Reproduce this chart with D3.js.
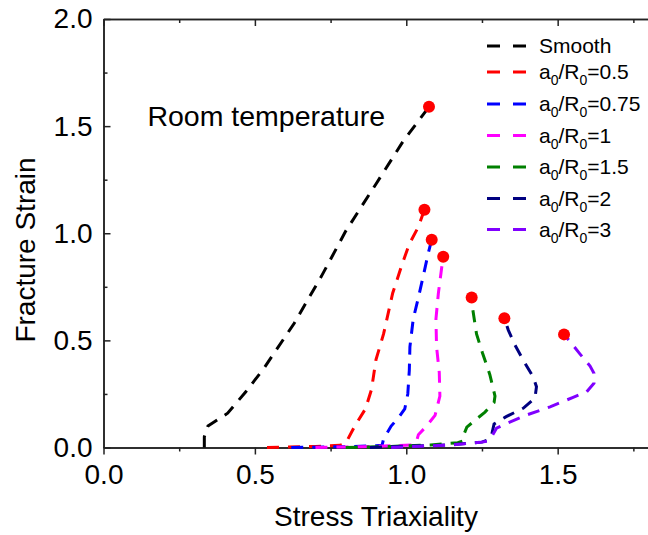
<!DOCTYPE html>
<html>
<head>
<meta charset="utf-8">
<script src="https://cdn.jsdelivr.net/npm/d3@7"></script>
<style>
  body { margin: 0; background: #fff; }
  svg { display: block; }
  text { font-family: "Liberation Sans", Arial, sans-serif; fill: #000; }
</style>
</head>
<body>
<script>
const W = 648, H = 535;
const margin = { top: 19, right: -0.5, bottom: 87.5, left: 103.5 };

// series (stress triaxiality, fracture strain)
const smoothX = [0.333, 0.333, 0.345, 0.41, 0.47, 0.53, 0.63, 0.72, 0.80, 0.90, 0.99, 1.075];
const smoothY = [0, 0.05, 0.10, 0.16, 0.26, 0.37, 0.58, 0.80, 1.01, 1.23, 1.43, 1.59];

const r05X = [0.54, 0.70, 0.78, 0.80, 0.83, 0.865, 0.885, 0.90, 0.925, 0.955, 0.985, 1.01, 1.04, 1.06];
const r05Y = [0, 0.005, 0.01, 0.02, 0.10, 0.18, 0.27, 0.41, 0.53, 0.72, 0.85, 0.95, 1.03, 1.11];

const r075X = [0.62, 0.80, 0.90, 0.92, 0.925, 0.95, 0.975, 0.995, 1.005, 1.01, 1.012, 1.023, 1.04, 1.056, 1.073, 1.084];
const r075Y = [0, 0.004, 0.008, 0.01, 0.04, 0.10, 0.14, 0.18, 0.25, 0.36, 0.47, 0.60, 0.70, 0.80, 0.91, 0.97];

const r1X = [0.70, 0.85, 0.95, 1.02, 1.034, 1.04, 1.067, 1.095, 1.111, 1.109, 1.10, 1.098, 1.106, 1.117, 1.122];
const r1Y = [0, 0.004, 0.008, 0.012, 0.03, 0.06, 0.10, 0.15, 0.24, 0.35, 0.47, 0.60, 0.72, 0.84, 0.89];

const r15X = [0.80, 0.95, 1.08, 1.17, 1.186, 1.19, 1.20, 1.238, 1.26, 1.29, 1.293, 1.276, 1.252, 1.232, 1.219, 1.216];
const r15Y = [0, 0.005, 0.012, 0.022, 0.03, 0.06, 0.095, 0.14, 0.165, 0.21, 0.24, 0.34, 0.44, 0.53, 0.65, 0.70];

const r2X = [0.88, 1.0, 1.14, 1.25, 1.27, 1.282, 1.29, 1.33, 1.386, 1.425, 1.43, 1.419, 1.386, 1.359, 1.337, 1.324];
const r2Y = [0, 0.006, 0.012, 0.025, 0.035, 0.06, 0.11, 0.144, 0.183, 0.23, 0.284, 0.33, 0.408, 0.478, 0.548, 0.603];

const r3X = [0.95, 1.05, 1.15, 1.243, 1.27, 1.282, 1.298, 1.332, 1.398, 1.475, 1.551, 1.596, 1.62, 1.62, 1.607, 1.574, 1.541, 1.521];
const r3Y = [0, 0.006, 0.012, 0.024, 0.03, 0.05, 0.09, 0.113, 0.152, 0.19, 0.234, 0.26, 0.30, 0.346, 0.38, 0.436, 0.494, 0.528];

const seriesNames = ["Smooth", "0.5", "0.75", "1", "1.5", "2", "3"];
const seriesColors = ["#000000", "#ff0000", "#0000ff", "#ff00ff", "#008000", "#000080", "#8000ff"];
const seriesXs = [smoothX, r05X, r075X, r1X, r15X, r2X, r3X];
const seriesYs = [smoothY, r05Y, r075Y, r1Y, r15Y, r2Y, r3Y];

const xMajor = [0, 0.5, 1.0, 1.5];
const xMinor = [0.25, 0.75, 1.25, 1.75];
const yMajor = [0, 0.5, 1.0, 1.5, 2.0];
const yMinor = [0.25, 0.75, 1.25, 1.75];

const svg = d3.select("body").append("svg")
    .attr("width", W)
    .attr("height", H);

const x = d3.scaleLinear().domain([0, 1.8]).range([margin.left, W - margin.right]);
const y = d3.scaleLinear().domain([0, 2.0]).range([H - margin.bottom, margin.top]);

const fmt = d3.format(".1f");

// bottom axis (ticks out)
svg.append("g")
    .attr("transform", `translate(0,${y(0)})`)
    .call(d3.axisBottom(x).tickValues(xMajor).tickFormat(fmt).tickSizeInner(7).tickSizeOuter(0).tickPadding(10));
svg.append("g")
    .attr("transform", `translate(0,${y(0)})`)
    .call(d3.axisBottom(x).tickValues(xMinor).tickFormat("").tickSizeInner(4).tickSizeOuter(0));

// top axis (ticks in)
svg.append("g")
    .attr("transform", `translate(0,${y(2)})`)
    .call(d3.axisTop(x).tickValues(xMajor).tickFormat("").tickSizeInner(-7).tickSizeOuter(0));
svg.append("g")
    .attr("transform", `translate(0,${y(2)})`)
    .call(d3.axisTop(x).tickValues(xMinor).tickFormat("").tickSizeInner(-4).tickSizeOuter(0));

// left axis (ticks in)
svg.append("g")
    .attr("transform", `translate(${x(0)},0)`)
    .call(d3.axisLeft(y).tickValues(yMajor).tickFormat(fmt).tickSizeInner(-7).tickSizeOuter(0).tickPadding(11));
svg.append("g")
    .attr("transform", `translate(${x(0)},0)`)
    .call(d3.axisLeft(y).tickValues(yMinor).tickFormat("").tickSizeInner(-4).tickSizeOuter(0));

svg.selectAll(".domain").attr("stroke", "#222").attr("stroke-width", 1.5);
svg.selectAll(".tick line").attr("stroke", "#222").attr("stroke-width", 1.5);
svg.selectAll(".tick text").attr("font-size", 28).attr("fill", "#000")
    .style("font-family", "'Liberation Sans', Arial, sans-serif");

// axis titles
svg.append("text")
    .attr("x", (x(0) + x(1.8)) / 2)
    .attr("y", 526)
    .attr("text-anchor", "middle")
    .attr("font-size", 28)
    .text("Stress Triaxiality");

svg.append("text")
    .attr("transform", `translate(35,250) rotate(-90)`)
    .attr("text-anchor", "middle")
    .attr("font-size", 28)
    .text("Fracture Strain");

// curves
const line = d3.line()
    .x(d => x(d[0]))
    .y(d => y(d[1]));

const plot = svg.append("g");
seriesXs.forEach((xs, i) => {
    const pts = xs.map((v, j) => [v, seriesYs[i][j]]);
    plot.append("path")
        .datum(pts)
        .attr("fill", "none")
        .attr("stroke", seriesColors[i])
        .attr("stroke-width", 3)
        .attr("stroke-dasharray", "12,9")
        .attr("d", line);
});

// fracture points
seriesXs.forEach((xs, i) => {
    const n = xs.length - 1;
    plot.append("circle")
        .attr("cx", x(xs[n]))
        .attr("cy", y(seriesYs[i][n]))
        .attr("r", 6)
        .attr("fill", "#ff0000");
});

svg.append("text")
    .attr("x", 385)
    .attr("y", 126)
    .attr("text-anchor", "end")
    .attr("font-size", 28.5)
    .text("Room temperature");

// legend
const legendY = [46, 72, 104, 135.5, 167, 198.5, 229.5];
const legend = svg.append("g");
seriesNames.forEach((name, i) => {
    const row = legend.append("g").attr("transform", `translate(0,${legendY[i]})`);
    row.append("line")
        .attr("x1", 487).attr("x2", 526)
        .attr("stroke", seriesColors[i])
        .attr("stroke-width", 3)
        .attr("stroke-dasharray", "13,13");
    const t = row.append("text")
        .attr("x", 539)
        .attr("y", 7)
        .attr("font-size", 21);
    if (i === 0) {
        t.text(name);
    } else {
        t.append("tspan").text("a");
        t.append("tspan").attr("font-size", 14).attr("dy", 6).text("0");
        t.append("tspan").attr("dy", -6).text("/R");
        t.append("tspan").attr("font-size", 14).attr("dy", 6).text("0");
        t.append("tspan").attr("dy", -6).text("=" + name);
    }
});
</script>
</body>
</html>
